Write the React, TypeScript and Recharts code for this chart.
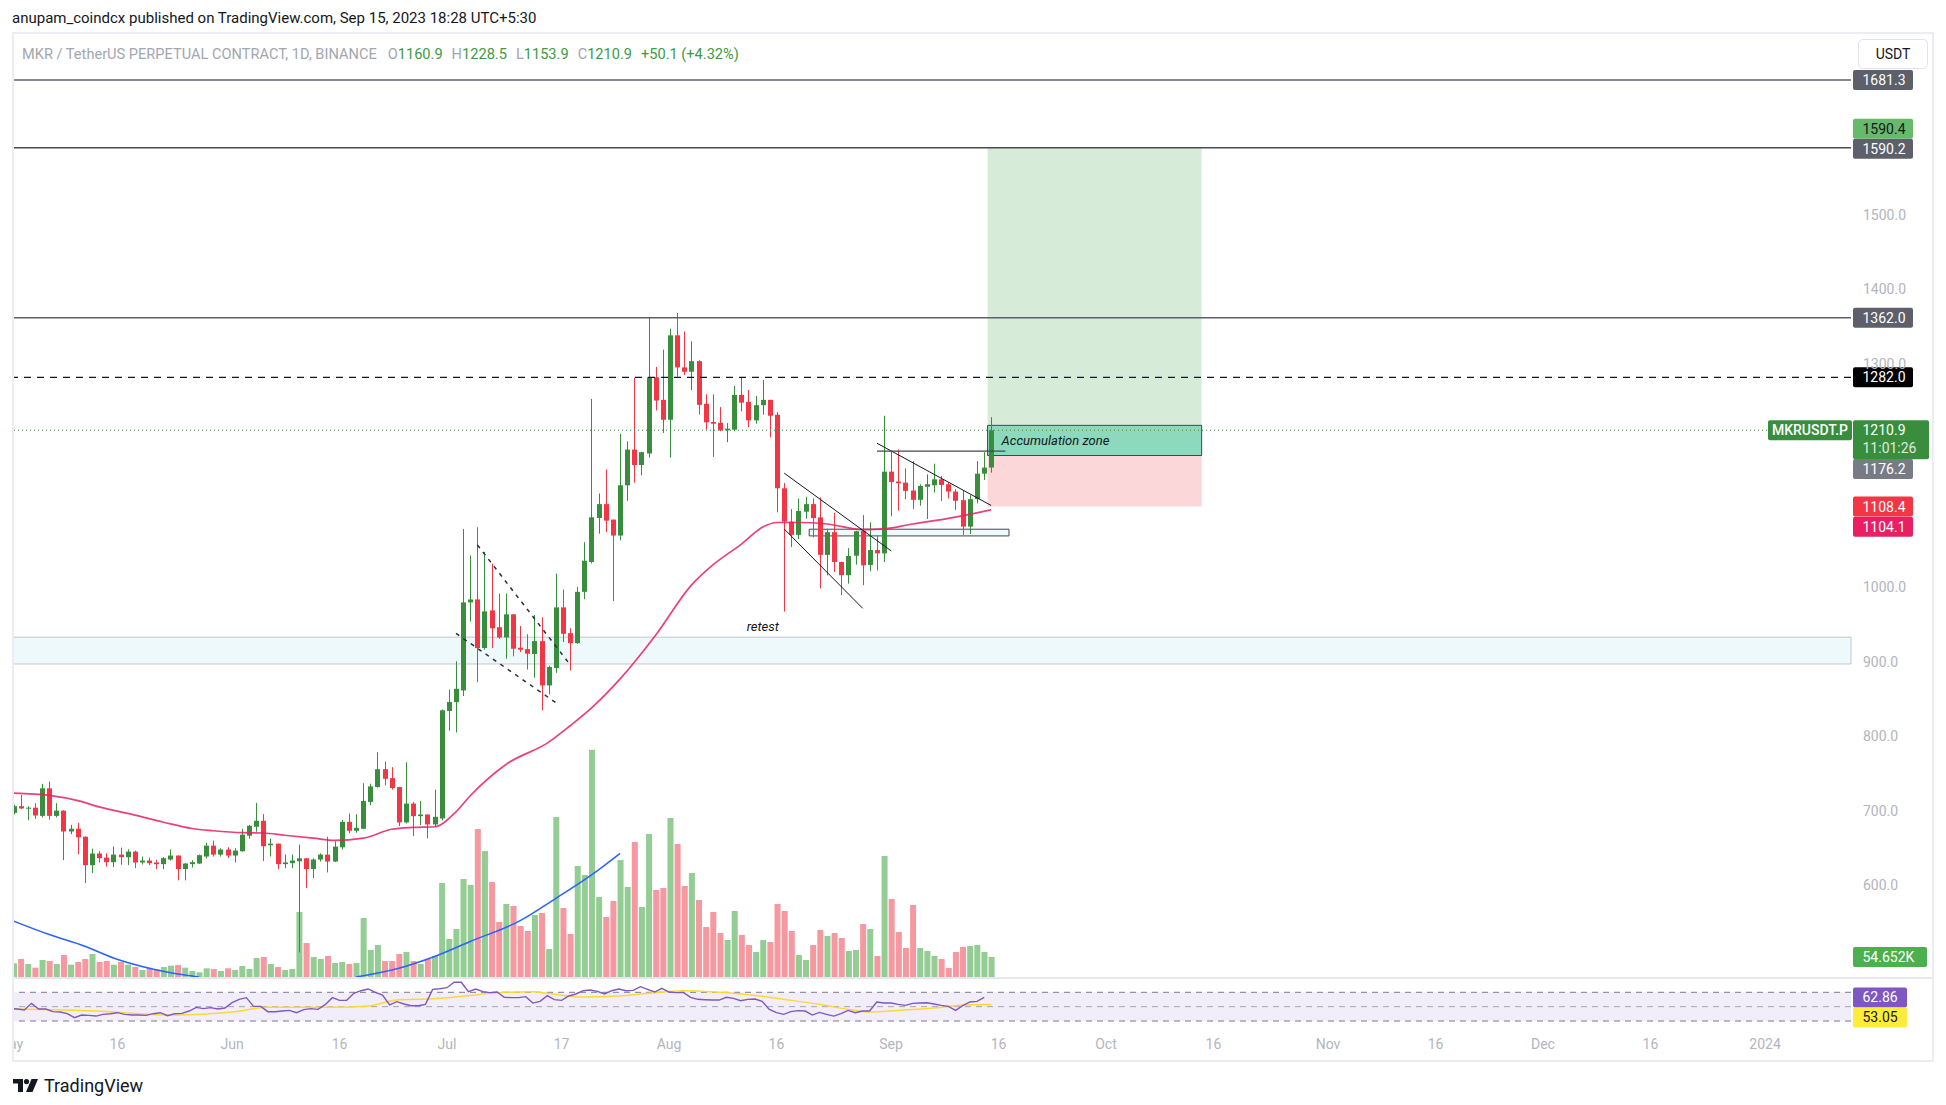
import {
	Bar,
	ComposedChart,
	Line,
	ReferenceArea,
	ReferenceDot,
	ReferenceLine,
	XAxis,
	YAxis,
} from "recharts";

const FONT = "Roboto, 'Liberation Sans', sans-serif";
const UP = "#388e3c";
const DOWN = "#f23645";
const UP_VOL = "#93cd93";
const DOWN_VOL = "#f5989f";
const AXIS_TEXT = "#b2b5be";

// daily candles, May 1 2023 -> Sep 15 2023 (index 0 = May 1)
const OPEN = [
	697, 706, 703, 704, 693, 730, 693, 700, 672, 675.7, 665, 626.8, 642.4, 637, 630.8, 641, 637.5, 645, 630.4, 633,
	630.4, 628.2, 634.4, 639.7, 621.5, 628.2, 629, 638.4, 653, 641, 647.7, 639.7, 645.5, 666.4, 678.4, 686.4, 653.6,
	655.7, 628.2, 629.5, 632, 636, 621.5, 634.4, 641, 631.7, 650.8, 685, 673, 675.7, 711.7, 731.7, 755.7, 743.7, 731.7,
	684.2, 709.5, 692.6, 694.8, 681.5, 689.5, 833.9, 845.7, 861.5, 979.7, 983.7, 918.4, 969, 946.4, 932.6, 963.7,
	918.8, 917, 910.4, 927.7, 868.2, 891.7, 973, 938.4, 925, 993.9, 1034, 1093, 1111.7, 1090.9, 1069.5, 1137, 1185,
	1164.2, 1179.7, 1282, 1251.7, 1225, 1338.4, 1295.3, 1289.5, 1303.7, 1246.4, 1222, 1221, 1210.8, 1211.7, 1258.4,
	1249, 1224.2, 1244.6, 1251.7, 1231.7, 1133, 1088.2, 1070.4, 1101.5, 1111.7, 1093.9, 1043.5, 1074, 1034, 1016.2,
	1042.4, 1076, 1030, 1050, 1045.5, 1155.3, 1142, 1140.6, 1130, 1117.5, 1135, 1137, 1145, 1138.4, 1128.6, 1117,
	1081.5, 1118.4, 1152.6, 1160.9,
];
const HIGH = [
	708, 721, 706, 710, 736, 739, 710, 700.5, 681, 683.7, 665.5, 649, 645.5, 642.8, 651.7, 650.4, 648.2, 646.4, 638.4,
	637, 634, 637.5, 647.7, 640, 629.5, 633.5, 641, 657, 659.7, 649.5, 650.8, 649.5, 675.7, 681, 710.4, 695.3, 662.4,
	656, 641, 641, 654.4, 636.5, 636, 642.8, 665, 658.8, 687.7, 696, 695.3, 737, 736.2, 778.4, 766, 758.4, 732, 765,
	711.7, 713, 695, 728.2, 836, 862.8, 900.6, 1078.4, 1042.8, 1080.6, 1047.3, 1031.7, 991.7, 991.7, 964, 948.1, 937,
	962.8, 959.7, 894.8, 1018.4, 997, 945, 1000.6, 1060.6, 1253, 1126, 1158.4, 1091, 1206, 1196, 1281.5, 1182, 1362,
	1296, 1319.3, 1347.3, 1368.6, 1343.7, 1330.4, 1305, 1259.3, 1259.3, 1242, 1220.6, 1270.4, 1282, 1265, 1257,
	1278.4, 1252, 1235.3, 1140, 1105, 1119.3, 1121.5, 1119.3, 1120.6, 1078.4, 1100, 1034.5, 1052.6, 1076, 1097, 1087.3,
	1069.5, 1230.4, 1182.9, 1185, 1159.7, 1169.5, 1138.4, 1151.7, 1166, 1149.5, 1140.6, 1131.7, 1130.4, 1123.7, 1169.5,
	1181.5, 1228.5,
];
const LOW = [
	695, 702, 687, 689, 691, 688, 691, 633.5, 668.5, 641.5, 602.8, 616.2, 630.4, 625, 624.2, 627.3, 626.8, 622.8, 627.7,
	626.8, 621.5, 621.5, 633, 606.4, 606.4, 623.7, 628.5, 636, 638.4, 638.4, 636.6, 630.4, 645, 662.4, 671.7, 632.2,
	638.4, 621.5, 622.8, 622.8, 509.5, 596.2, 609.5, 631.7, 617, 631, 647.7, 669.5, 670.4, 675, 707.3, 731, 734, 728.2,
	679.3, 682.8, 666, 680.6, 662.8, 678.4, 687, 807.3, 805, 854, 953.9, 872.6, 916.2, 918.4, 930.8, 904.2, 907.3, 913,
	889.5, 878.4, 834.8, 856.2, 885, 926.4, 888.2, 924, 984, 1032, 1072, 1074, 981.5, 1063, 1116, 1140.6, 1150.4, 1174,
	1237.5, 1207.3, 1174, 1282.8, 1285, 1265, 1231.8, 1211.7, 1175, 1209.5, 1194.9, 1209.5, 1236.2, 1214.9, 1219.7,
	1231.8, 1201.5, 1100.6, 967.3, 1054, 1065, 1092, 1067, 998.4, 1016, 1020.6, 989.5, 1005, 1030.4, 1002.9, 1021.5,
	1022.8, 1034, 1095.3, 1102.9, 1118.4, 1105, 1109.5, 1091.7, 1127.3, 1116, 1119.3, 1104, 1070.4, 1071.7, 1112.6,
	1144.2, 1153.9,
];
const CLOSE = [
	706, 703, 704, 693.5, 730, 693, 700, 672, 675.7, 664.2, 626.8, 642.4, 636.2, 630.8, 641, 637.5, 645, 630.4, 633,
	629.5, 628.2, 636.2, 639.7, 621.5, 629, 630.8, 640.2, 653, 641, 647.7, 639.7, 646.4, 667.7, 679.7, 686.4, 652.2,
	655.7, 628.2, 630.4, 633, 636, 621.5, 634.4, 641, 631.7, 651.7, 685, 673, 677, 713, 732.6, 755.7, 742.8, 730.4,
	684.2, 709.5, 692.6, 694.8, 681.5, 691.7, 834.8, 846, 863.7, 979.7, 983.7, 918.4, 967.7, 945, 932.6, 963.7, 917.5,
	916.2, 910.8, 927.7, 868.2, 893, 973, 937.5, 925, 993.9, 1035.7, 1094, 1111.7, 1089.5, 1069.5, 1137, 1185, 1164.2,
	1181.5, 1282, 1250.8, 1225, 1338.4, 1295.3, 1289.5, 1303.7, 1245, 1221.5, 1219.7, 1210.8, 1213, 1258.4, 1248,
	1224.2, 1244.6, 1251.7, 1230.4, 1133, 1088.2, 1070.4, 1102.4, 1111.7, 1093, 1043.5, 1074, 1034, 1016.2, 1042,
	1075.3, 1029.5, 1050, 1045.6, 1155.3, 1141.5, 1139.7, 1129.5, 1117.5, 1136.2, 1138.4, 1145, 1137.5, 1128.6, 1116.2,
	1081.5, 1118.4, 1152.6, 1160.8, 1210.9,
];
// volume in thousands
const VOLUME = [
	37.3, 49.2, 35.5, 25.5, 46.5, 43.7, 35.5, 60.1, 33.7, 41, 49.2, 62.9, 41, 43.7, 33.7, 41, 33.7, 27.3, 19.1, 25.5, 21,
	27.3, 31, 32.8, 25.5, 16.4, 12.8, 23.7, 21.9, 16.4, 23.7, 19.1, 30.1, 21.9, 51.9, 54.7, 35.5, 27.3, 19.1, 21.9,
	177.6, 92.9, 54.7, 49.2, 57.4, 38.3, 41, 35.5, 38.3, 161.2, 73.8, 87.4, 43.7, 43.7, 62.9, 68.3, 43.7, 35.5, 49.2,
	57.4, 256.9, 103.8, 131.2, 267.8, 251.4, 404.4, 344.3, 259.6, 150.3, 199.5, 194, 139.4, 125.7, 169.4, 174.9, 76.5,
	437.2, 188.6, 117.5, 303.3, 278.7, 620.9, 218.6, 164, 207.7, 319.7, 245.9, 368.9, 191.3, 390.8, 237.7, 243.2,
	434.5, 363.4, 248.7, 284.2, 210.4, 136.6, 177.6, 120.2, 101.1, 180.4, 114.8, 87.4, 68.3, 101.1, 95.6, 199.5, 180.4,
	125.7, 60.1, 46.5, 87.4, 128.4, 112, 120.2, 106.6, 71, 73.8, 144.8, 131.2, 57.4, 330.7, 213.1, 123, 79.2, 196.8,
	79.2, 71, 57.4, 49.2, 24.6, 68.3, 82, 84.7, 87.4, 68.3, 54.652,
];
const RSI = [
	47.6, 46.7, 45.3, 54.6, 46.7, 46.7, 43, 42.5, 40.2, 34.6, 38.3, 37.9, 36.9, 39.3, 40.2, 41.6, 39.3, 38.3, 38.3,
	37.9, 40.2, 41.6, 37.4, 40.2, 40.7, 43.9, 49, 47.2, 48.6, 46.7, 48.1, 55.5, 60.2, 62.5, 50.4, 50.4, 43, 43, 43.9,
	44.8, 41.6, 45.8, 47.2, 46.2, 52.7, 62.5, 58.8, 58.8, 68.5, 72.2, 74.6, 69.9, 66.2, 52.3, 56.9, 53.7, 51.3, 51.3,
	53.2, 74.1, 75, 76.4, 83.9, 83.9, 70.9, 74.6, 70.9, 69.5, 70.4, 63, 62.5, 62.5, 63.9, 55, 57.4, 65.3, 59.7, 58.8,
	64.8, 67.6, 72.2, 73.2, 71.3, 67.6, 72.2, 74.6, 72.2, 72.7, 77.8, 74.1, 70.4, 75.5, 70.4, 69.5, 69.9, 63, 60.2,
	59.7, 59.2, 59.2, 63, 61.6, 58.3, 60.2, 60.6, 57.4, 46.2, 41.6, 39.3, 43, 44.4, 43.9, 38.3, 42, 39.3, 36.9, 40.2,
	44.8, 41.6, 43.9, 43.9, 56.5, 55, 55, 53.2, 51.8, 54.6, 55, 55.5, 53.7, 51.8, 50.4, 44.8, 51.3, 56.5, 57.4, 62.86,
];

// moving average on price, read at sample days
const MA_DAY = [0, 5, 9, 12, 17, 21, 25, 28, 32, 35, 38, 42, 45, 49, 53, 56, 59, 62, 64, 69, 75, 78, 81, 85, 90, 95, 98, 102, 105, 107, 110, 114, 119, 122, 126, 131, 135, 137];
const MA_VAL = [723.7, 720.6, 713.5, 705, 694, 684.5, 676, 673, 670.4, 670, 667, 663, 660, 663, 675, 677.5, 678.4, 698.4, 720, 762, 792, 814, 838, 877, 936, 1003, 1030, 1058, 1081, 1087, 1087, 1085, 1077.5, 1078.4, 1085, 1092.6, 1100, 1104.1];

// RSI moving average
const RSI_MA_DAY = [0, 12, 23, 31, 36, 40, 45, 50, 54, 59, 64, 68, 73, 75, 80, 85, 89, 94, 99, 103, 108, 113, 117, 120, 124, 129, 134, 137];
const RSI_MA_VAL = [46.7, 43.9, 38.3, 42.5, 49, 49, 49, 50.9, 59.2, 61.1, 65.3, 69.5, 70.9, 68.5, 63.4, 64.8, 68.5, 72.2, 69.9, 66.7, 60.2, 53.2, 46.2, 42.5, 44.8, 48.1, 52.7, 53.05];

// blue arc drawn in the volume pane (two visible pieces)
const ARC_A_DAY = [0, 5, 10, 14, 19, 24, 26];
const ARC_A_VAL = [153, 116, 84, 52, 24, 5.5, 0];
const ARC_B_DAY = [48, 54, 59, 64, 71, 76, 81, 85];
const ARC_B_VAL = [0, 24, 56, 97, 154, 215, 279, 338];

const SLOTS = 258; // May 1 2023 -> Jan 13 2024
const TICK_DAY = [0, 15, 31, 46, 61, 77, 92, 107, 123, 138, 153, 168, 184, 199, 214, 229, 245];
const TICK_LABEL = ["May", "16", "Jun", "16", "Jul", "17", "Aug", "16", "Sep", "16", "Oct", "16", "Nov", "16", "Dec", "16", "2024"];
const PRICE_TICKS = [600, 700, 800, 900, 1000, 1300, 1400, 1500];

const pick = (days: number[], vals: number[], i: number) => {
	const k = days.indexOf(i);
	return k >= 0 ? vals[k] : null;
};

const rows = Array.from({ length: SLOTS }, (_, i) => ({
	i,
	o: OPEN[i] ?? null,
	h: HIGH[i] ?? null,
	l: LOW[i] ?? null,
	c: CLOSE[i] ?? null,
	range: OPEN[i] != null ? [LOW[i], HIGH[i]] : null,
	v: VOLUME[i] ?? null,
	rsi: RSI[i] ?? null,
	ma: pick(MA_DAY, MA_VAL, i),
	rsiMa: pick(RSI_MA_DAY, RSI_MA_VAL, i),
	arcA: pick(ARC_A_DAY, ARC_A_VAL, i),
	arcB: pick(ARC_B_DAY, ARC_B_VAL, i),
}));

function Candle(props: any) {
	const { x, width, payload } = props;
	let { y, height } = props;
	if (!payload || payload.o == null) return null;
	if (height < 0) {
		y += height;
		height = -height;
	}
	const { o, h, l, c } = payload;
	const color = c >= o ? UP : DOWN;
	const k = h === l ? 0 : height / (h - l);
	const top = y + (h - Math.max(o, c)) * k;
	const bodyH = Math.max(1, Math.abs(o - c) * k);
	const cx = Math.round(x + width / 2) + 0.5;
	return (
		<g>
			<line x1={cx} x2={cx} y1={y} y2={y + height} stroke={color} strokeWidth={1} />
			<rect x={cx - 2.5} y={top} width={5} height={bodyH} fill={color} />
		</g>
	);
}

function VolBar(props: any) {
	const { x, y, width, height, payload } = props;
	if (!payload || payload.v == null) return null;
	return <rect x={x} y={y} width={width} height={Math.max(0, height)} fill={payload.c >= payload.o ? UP_VOL : DOWN_VOL} />;
}

function AxisTag(props: any) {
	const { viewBox, text, sub, bg, fg = "#ffffff", dy = 0, w = 60, dx = 2 } = props;
	if (!viewBox) return null;
	const x = viewBox.x + viewBox.width + dx;
	const cy = viewBox.y + dy;
	const h = sub ? 39 : 20;
	return (
		<g>
			<rect x={x} y={cy - 10} width={w} height={h} rx={2} fill={bg} />
			<text x={x + 9.5} y={cy} dy="0.36em" fill={fg} fontSize={14} fontFamily={FONT}>
				{text}
			</text>
			{sub ? (
				<text x={x + 9.5} y={cy + 18} dy="0.36em" fill={fg} fillOpacity={0.85} fontSize={14} fontFamily={FONT}>
					{sub}
				</text>
			) : null}
		</g>
	);
}

function SymbolTag(props: any) {
	const { viewBox } = props;
	if (!viewBox) return null;
	const x = viewBox.x + viewBox.width - 83;
	const cy = viewBox.y;
	return (
		<g>
			<rect x={x} y={cy - 10} width={84} height={20} rx={2} fill={UP} />
			<text x={x + 42} y={cy} dy="0.36em" textAnchor="middle" fill="#fff" fontSize={14} fontWeight={500} fontFamily={FONT}>
				MKRUSDT.P
			</text>
		</g>
	);
}

function NoteText(props: any) {
	const { viewBox, text, anchor = "middle", dx = 0 } = props;
	if (!viewBox) return null;
	const x = (anchor === "start" ? viewBox.x : viewBox.x + (viewBox.width || 0) / 2) + dx;
	const y = viewBox.y + (viewBox.height || 0) / 2;
	return (
		<text x={x} y={y} dy="0.36em" textAnchor={anchor} fontStyle="italic" fontSize={13} fill="#131722" fontFamily={FONT}>
			{text}
		</text>
	);
}

const seg = (x1: number, y1: number, x2: number, y2: number) => [
	{ x: x1, y: y1 },
	{ x: x2, y: y2 },
];

function MainPane() {
	return (
		<ComposedChart width={1923} height={943} data={rows} margin={{ top: 0, right: 0, bottom: 0, left: 0 }}>
			<XAxis dataKey="i" type="category" hide />
			<XAxis dataKey="i" type="category" xAxisId="vx" hide />
			<YAxis
				orientation="right"
				width={82}
				domain={[476.6, 1743.1]}
				allowDataOverflow
				ticks={PRICE_TICKS}
				tickFormatter={(v: number) => v.toFixed(1)}
				tick={{ fill: AXIS_TEXT, fontSize: 14, fontFamily: FONT }}
				axisLine={false}
				tickLine={false}
				tickSize={0}
				tickMargin={12}
				interval={0}
			/>
			<YAxis yAxisId="vol" hide domain={[0, 2577]} allowDataOverflow />

			{/* support zone */}
			<ReferenceArea y1={897} y2={933} fill="#eef9fc" fillOpacity={1} stroke="#c3c6ce" strokeWidth={1} />
			{/* long position */}
			<ReferenceArea x1={137} x2={166} y1={1176.2} y2={1590.4} fill="#d7ecd8" fillOpacity={1} />
			<ReferenceArea x1={137} x2={166} y1={1108.4} y2={1176.2} fill="#fcd7da" fillOpacity={1} />

			<Bar dataKey="v" xAxisId="vx" yAxisId="vol" barSize={6} shape={<VolBar />} isAnimationActive={false} />
			<Line dataKey="arcA" xAxisId="vx" yAxisId="vol" type="monotone" stroke="#2962ff" strokeWidth={1.5} dot={false} connectNulls isAnimationActive={false} />
			<Line dataKey="arcB" xAxisId="vx" yAxisId="vol" type="monotone" stroke="#2962ff" strokeWidth={1.5} dot={false} connectNulls isAnimationActive={false} />
			<Line dataKey="ma" type="monotone" stroke="#e91e63" strokeOpacity={0.85} strokeWidth={1.7} dot={false} connectNulls isAnimationActive={false} />

			{/* horizontal levels */}
			<ReferenceLine y={1681.3} stroke="#5d606b" strokeWidth={1.5} label={<AxisTag text="1681.3" bg="#5d606b" />} />
			<ReferenceLine y={1590.2} stroke="#4a4d57" strokeWidth={1.5} label={<AxisTag text="1590.2" bg="#5d606b" dy={1} />} />
			<ReferenceLine y={1590.4} stroke="none" label={<AxisTag text="1590.4" bg="#66bb6a" fg="#131722" dy={-19} />} />
			<ReferenceLine y={1362} stroke="#5d606b" strokeWidth={1.5} label={<AxisTag text="1362.0" bg="#5d606b" />} />
			<ReferenceLine y={1282} stroke="#131722" strokeWidth={1.3} strokeDasharray="7 6" label={<AxisTag text="1282.0" bg="#000000" />} />

			{/* drawings */}
			<ReferenceLine segment={seg(65, 1057, 78, 896)} stroke="#2a2e39" strokeWidth={1.5} strokeDasharray="4 5" ifOverflow="visible" />
			<ReferenceLine segment={seg(62, 938, 76, 845)} stroke="#2a2e39" strokeWidth={1.5} strokeDasharray="4 5" ifOverflow="visible" />
			<ReferenceLine segment={seg(108, 1153.3, 123, 1048.8)} stroke="#131722" strokeWidth={1} ifOverflow="visible" />
			<ReferenceLine segment={seg(108, 1078.3, 119, 971.7)} stroke="#131722" strokeWidth={1} ifOverflow="visible" />
			<ReferenceLine segment={seg(121, 1193.5, 137, 1109.9)} stroke="#131722" strokeWidth={1} ifOverflow="visible" />
			<ReferenceLine segment={seg(121, 1182.9, 139, 1182.9)} stroke="#434651" strokeWidth={1.2} ifOverflow="visible" />
			<ReferenceArea x1={112} x2={139} y1={1069} y2={1078} fill="#eef9fc" fillOpacity={1} stroke="#434651" strokeWidth={1} />

			<Bar dataKey="range" barSize={5} shape={<Candle />} isAnimationActive={false} />

			<ReferenceArea
				x1={137}
				x2={166}
				y1={1177}
				y2={1217.5}
				fill="#7fd6b9"
				fillOpacity={0.85}
				stroke="#434651"
				strokeWidth={1}
				label={<NoteText text="Accumulation zone" anchor="start" dx={14} />}
			/>
			<ReferenceDot x={105} y={947} r={0} fill="none" stroke="none" label={<NoteText text="retest" />} />

			<ReferenceLine y={1210.9} stroke={UP} strokeWidth={1} strokeDasharray="1 3" label={<AxisTag text="1210.9" sub="11:01:26" bg={UP} w={76} />} />
			<ReferenceLine y={1210.9} stroke="none" label={<SymbolTag />} />
			<ReferenceLine y={1176.2} stroke="none" label={<AxisTag text="1176.2" bg="#787b86" dy={13} />} />
			<ReferenceLine y={1108.4} stroke="none" label={<AxisTag text="1108.4" bg={DOWN} />} />
			<ReferenceLine y={1104.1} stroke="none" label={<AxisTag text="1104.1" bg="#e91e63" dy={17} />} />
			<ReferenceLine yAxisId="vol" xAxisId="vx" y={54.652} stroke="none" label={<AxisTag text="54.652K" bg="#4caf50" w={74} />} />
		</ComposedChart>
	);
}

function RsiPane() {
	return (
		<ComposedChart width={1923} height={82} data={rows} margin={{ top: 0, right: 0, bottom: 0, left: 0 }}>
			<XAxis
				dataKey="i"
				type="category"
				ticks={TICK_DAY}
				interval={0}
				tickFormatter={(v: number) => TICK_LABEL[TICK_DAY.indexOf(v)] ?? ""}
				tick={{ fill: AXIS_TEXT, fontSize: 14, fontFamily: FONT }}
				axisLine={false}
				tickLine={false}
				tickSize={0}
				tickMargin={7}
				height={29}
			/>
			<YAxis orientation="right" width={82} domain={[14.7, 88.5]} allowDataOverflow tick={false} axisLine={false} tickLine={false} />
			<ReferenceArea y1={30} y2={70} fill="#7e57c2" fillOpacity={0.1} />
			<ReferenceLine y={70} stroke="#787b86" strokeDasharray="6 5" strokeWidth={1} />
			<ReferenceLine y={50} stroke="#a3a6af" strokeDasharray="6 5" strokeWidth={1} />
			<ReferenceLine y={30} stroke="#787b86" strokeDasharray="6 5" strokeWidth={1} />
			<Line dataKey="rsiMa" type="monotone" stroke="#fdd835" strokeWidth={1.5} dot={false} connectNulls isAnimationActive={false} />
			<Line dataKey="rsi" type="linear" stroke="#7e57c2" strokeWidth={1.4} dot={false} isAnimationActive={false} />
			<ReferenceLine y={62.86} stroke="none" label={<AxisTag text="62.86" bg="#7e57c2" w={54} />} />
			<ReferenceLine y={53.05} stroke="none" label={<AxisTag text="53.05" bg="#ffeb3b" fg="#131722" w={54} dy={13} />} />
		</ComposedChart>
	);
}

function Legend() {
	const g = "#3d9a42";
	const n = "#a3a6af";
	return (
		<div style={{ position: "absolute", left: 22, top: 45, fontSize: 14.6, fontFamily: FONT, color: n, whiteSpace: "nowrap" }}>
			<span>MKR / TetherUS PERPETUAL CONTRACT, 1D, BINANCE</span>
			<span style={{ marginLeft: 11 }}>O</span>
			<span style={{ color: g }}>1160.9</span>
			<span style={{ marginLeft: 9 }}>H</span>
			<span style={{ color: g }}>1228.5</span>
			<span style={{ marginLeft: 9 }}>L</span>
			<span style={{ color: g }}>1153.9</span>
			<span style={{ marginLeft: 9 }}>C</span>
			<span style={{ color: g }}>1210.9</span>
			<span style={{ marginLeft: 9, color: g }}>+50.1 (+4.32%)</span>
		</div>
	);
}

export default function App() {
	return (
		<div style={{ position: "absolute", left: 0, top: 0, width: 1946, height: 1105, background: "#ffffff", overflow: "hidden", fontFamily: FONT }}>
			<div style={{ position: "absolute", left: 12, top: 9, fontSize: 15, color: "#131722", whiteSpace: "nowrap" }}>
				anupam_coindcx published on TradingView.com, Sep 15, 2023 18:28 UTC+5:30
			</div>
			<div
				style={{
					position: "absolute",
					left: 12,
					top: 32,
					width: 1922,
					height: 1030,
					border: "2px solid #ecedf2",
					boxSizing: "border-box",
				}}
			/>
			<div style={{ position: "absolute", left: 14, top: 34, width: 1918, height: 1026, overflow: "hidden" }}>
				<div style={{ position: "absolute", left: -4.17, top: 0 }}>
					<MainPane />
				</div>
				<div style={{ position: "absolute", left: 0, top: 943, width: 1918, height: 2, background: "#e6e8ee" }} />
				<div style={{ position: "absolute", left: -4.17, top: 945 }}>
					<RsiPane />
				</div>
			</div>
			<Legend />
			<div
				style={{
					position: "absolute",
					left: 1858,
					top: 39,
					width: 70,
					height: 30,
					border: "1px solid #e0e3eb",
					borderRadius: 5,
					boxSizing: "border-box",
					fontSize: 14,
					color: "#131722",
					display: "flex",
					alignItems: "center",
					justifyContent: "center",
				}}
			>
				USDT
			</div>
			<div style={{ position: "absolute", left: 13, top: 1075, display: "flex", alignItems: "center", gap: 6 }}>
				<svg width={25} height={13} viewBox="0 0 25 13">
					<path d="M0 0 H10 V13 H5 V4.5 H0 Z" fill="#131722" />
					<circle cx={13.5} cy={2.6} r={2.6} fill="#131722" />
					<path d="M18.5 0 H25 L19.5 13 H13 Z" fill="#131722" />
				</svg>
				<span style={{ fontSize: 18, color: "#131722" }}>TradingView</span>
			</div>
		</div>
	);
}
